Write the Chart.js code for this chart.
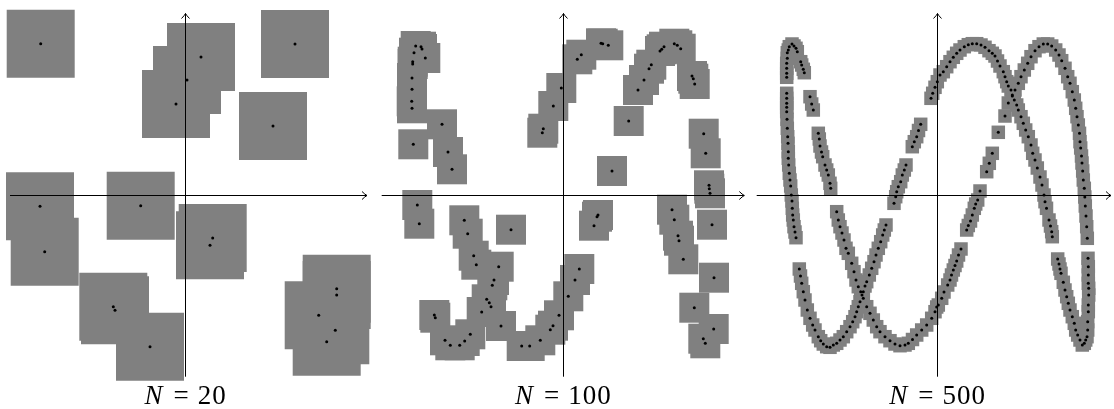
<!DOCTYPE html>
<html>
<head>
<meta charset="utf-8">
<script src="https://cdn.jsdelivr.net/npm/chart.js@4.4.1/dist/chart.umd.min.js"></script>
<style>
  html, body { margin: 0; padding: 0; background: #fff; overflow: hidden; }
  #wrap { position: relative; width: 1114px; height: 409px; }
  #wrap canvas { position: absolute; top: 0; }
  .cap {
    position: absolute; top: 382px; width: 200px; margin-left: -100px;
    text-align: center; white-space: nowrap;
    font-family: "Liberation Serif", "DejaVu Serif", serif;
    font-size: 27px; line-height: 26px; color: #000;
  }
  .cap .eq { margin: 0 9px 0 11px; }
  .cap .num { letter-spacing: 1px; }
</style>
</head>
<body>
<div id="wrap"></div>
<script>
// sample sizes shown under each panel
const sampleSizes = [20, 100, 500];

const pts20 = [
  [-144.8, 151.3], [15.5, 138], [1.5, 115], [-9.5, 91], [109.5, 151], [87.5, 69],
  [-145.5, -11.3], [-44.8, -10.7], [-140.8, -56.7], [27.2, -43], [24.5, -50.3],
  [-72.2, -111.7], [-70.5, -115.3], [-35.5, -151.7], [151.2, -93.7], [151.2, -100],
  [133.2, -120.3], [149.8, -135.3], [141.2, -146.7]
];

const pts100 = [
  [-147.6, 149], [-142.3, 148.3], [-141.3, 146], [-149.3, 142.3], [-138, 137],
  [-150.6, 133.3], [-150.6, 131], [-151.3, 117], [-151.3, 105.7], [-151.6, 93.7],
  [-151.3, 86.7], [-121.3, 70.7], [-150, 50.7], [-115.3, 43], [-111.3, 25.7],
  [-146, -10], [-144, -28.7],
  [-20, 66.3], [-21, 62.3], [-10, 89], [-2, 107], [14, 135.7], [18, 140.3],
  [37.7, 151.7], [39.4, 151.3], [45, 149.7],
  [48.7, 24],
  [65.4, 74], [74.7, 105], [80.7, 115], [85.7, 126.3], [88, 130.3], [96.7, 144],
  [98.4, 145.7], [100.7, 148.3], [111, 151.3], [114, 149.7], [117.4, 146.3],
  [128.7, 119], [130, 116.3], [131.4, 111],
  [140.4, 61.3], [142.4, 41.7], [145.7, 9.7], [146, 6.3], [146.7, 1.7],
  [-99, -25.3], [-95.6, -38.7], [-52.3, -34.7], [34.7, -20], [33.7, -21.7], [30.7, -30.7],
  [-89.6, -60.7], [-87, -69.7], [-64.6, -71.7], [-69.3, -85], [-71, -90.3],
  [-76.6, -104.3], [-74, -107.7], [-72.3, -111.7], [-81.6, -117], [-62.3, -131],
  [-129, -120], [-128, -122.7], [-118.3, -145.3], [-113, -150.3], [-103.6, -150.3],
  [-98.6, -146], [-93, -139.3],
  [-41.6, -151], [-33.6, -151], [-23, -145.3], [-13, -134.7], [-10.3, -130.7],
  [-4.3, -120.3], [5, -101.3], [11.7, -85], [16, -74],
  [108.7, -14.7], [111, -24.7], [114.7, -40.7], [115.7, -45.7], [120, -64.3],
  [148.7, -29.7], [150.7, -82.7], [131, -112.7], [150.4, -134], [140, -143.7], [142, -148.3]
];

const pts500 = [
  [-145.5, 151], [-148.2, 148.3], [-149.2, 145], [-150.2, 142.3], [-150.2, 136.7],
  [-150.8, 131.7], [-150.8, 126.7], [-150.8, 121.7], [-150.8, 117.7],
  [-150.8, 101.7], [-150.8, 96.7], [-150.8, 91.7], [-150.8, 87.7], [-150.8, 83.3],
  [-150.5, 75.7], [-150.2, 66.7], [-149.8, 58.3], [-149.5, 51.7], [-149.2, 43.3],
  [-149.2, 36.7], [-148.8, 30], [-148.2, 21.7], [-147.5, 15], [-146.8, 9], [-146.2, 0],
  [-145.5, -6], [-145.2, -13.3], [-144.8, -20], [-144.2, -25], [-143.5, -31.7],
  [-142.5, -37], [-141.5, -42.7],
  [-138.2, -74], [-137, -81], [-135.8, -88.3], [-134.2, -96.7], [-132.5, -105],
  [-130.2, -115], [-127.5, -123.3], [-124.8, -130], [-122.5, -135], [-119.2, -141.7],
  [-116.8, -145.7], [-114.2, -149], [-110.8, -151.7], [-107.5, -152.3], [-104.2, -150],
  [-100.8, -148.3], [-97.5, -145], [-94.2, -141.7], [-90.8, -136.7], [-87.5, -131.7],
  [-84.8, -126.7], [-82.5, -121.7], [-80.8, -116.7], [-79.2, -111.7], [-77.5, -106.7],
  [-75.5, -100], [-74.2, -96.7], [-72.5, -91], [-70.8, -86.7], [-68.2, -80],
  [-65.8, -73.3], [-63.5, -66.7], [-61.5, -60], [-59.2, -53.3], [-56.8, -46.7],
  [-54.8, -40], [-53.2, -35], [-51.5, -30],
  [-43.5, -8.3], [-41.8, -1.7], [-40.8, 3.3], [-39.2, 8.3], [-36.8, 13.3],
  [-35.2, 20], [-33.2, 25], [-31.5, 30],
  [-25.2, 48.3], [-23.2, 53.3], [-20.8, 58.3], [-19, 64.5], [-16.8, 70.7],
  [-6.5, 96.7], [-4.8, 101.7], [-2.5, 107.7], [-0.2, 113.3], [2.5, 120], [5.8, 123.3],
  [9.2, 128.3], [12.5, 133.3], [15.8, 137.7], [19.2, 141.7], [22.5, 145], [26.8, 148.3],
  [30.8, 150.3], [34.8, 151.3], [39.2, 151.3], [43.5, 150], [47.5, 147.7], [51.5, 144.3],
  [54.8, 141.7], [57.5, 139], [60, 134], [62.5, 129], [65.8, 123.3], [67.5, 118.3],
  [69.2, 113.3], [70.8, 109], [73.5, 105], [74.8, 100], [76.8, 95], [79.2, 90],
  [80.8, 85], [83.5, 78.3], [85.8, 71.7], [88.2, 65], [90.8, 58.3], [93.5, 50],
  [95.2, 41.7], [97.5, 35], [99.8, 27], [102.5, 18], [104.5, 10], [106.5, 0],
  [107.5, -6.7], [109, -13.3], [111.5, -25], [113, -31], [114.2, -36.7], [114.8, -41.7],
  [120.2, -64], [121.5, -69], [122.5, -74], [123.5, -78.3], [125.8, -87.3], [127.5, -95],
  [129.2, -101.7], [130.8, -108.3], [132.5, -115], [134.8, -121.7], [136.8, -128.3],
  [138.2, -135], [140.2, -140], [142.5, -145], [144.8, -150], [146.8, -148.3],
  [148.2, -145], [149.5, -141.7], [150.2, -135], [150.2, -126.7], [150.8, -116.7],
  [150.8, -110], [151.2, -100], [151.2, -93.3], [150.8, -88.3], [150.8, -80],
  [150.8, -71.7], [150.5, -63.3],
  [149.8, -43.3], [149.2, -31.7], [148.5, -21], [147.8, -11], [147.3, -2], [146.8, 6.7],
  [145.8, 15], [145.2, 24], [144.5, 32], [144, 39], [143.2, 47], [142.5, 53.3],
  [142, 61.7], [140.8, 70], [139.5, 78.3], [138.2, 86.7], [136.8, 95], [134.8, 103.3],
  [132.5, 111.7], [130.2, 118.3], [127.5, 126.7], [124.2, 134.3], [121.5, 140],
  [118.2, 145], [114.2, 149], [110.2, 151], [105.8, 151], [101.5, 148.3], [97.5, 144.3],
  [93.5, 138.3], [90.2, 131.7], [86.8, 125], [83.5, 118.3], [80.8, 111.7], [77.5, 105],
  [74.8, 99], [70.8, 92], [67.5, 79], [60.8, 62.7], [54.8, 41.7], [51.8, 31.7], [49.2, 23.3],
  [42.5, 4], [40.2, -5], [38.2, -9], [36.8, -13.3], [34.8, -20], [33, -26], [30.8, -30.5],
  [29.2, -35],
  [23.5, -54], [21, -60], [19.2, -66], [17.5, -70.5], [15.8, -75], [14, -80], [12.5, -85],
  [10.2, -90], [6.5, -97], [4.2, -103.3], [0.8, -110], [-0.8, -112], [-2.5, -116.7],
  [-5.8, -123.3], [-10.8, -130], [-15.8, -135], [-20.8, -140], [-25, -144.5],
  [-29.2, -148.3], [-32.5, -150], [-37.5, -150.7], [-42.5, -149], [-47.5, -145.7],
  [-52.5, -141.7], [-57.5, -136.7], [-60.8, -131.7], [-64.2, -125], [-67.5, -118.3],
  [-70.8, -111.7], [-74.2, -103.3], [-76.8, -96.7], [-79.2, -91.7], [-81.5, -85],
  [-83.5, -76.7], [-85.8, -68.3], [-89.2, -58.3], [-91.5, -53.3], [-93.5, -45],
  [-95.5, -38], [-97.5, -31.7], [-99.2, -25], [-100.8, -16.7],
  [-106.8, 6.7], [-107.5, 11.7], [-109.2, 20], [-110.8, 25], [-112.5, 30], [-114.8, 38.3],
  [-116, 43], [-117.5, 49], [-118.2, 56], [-119.2, 61.7],
  [-124.2, 85], [-125.8, 91], [-127.5, 98.3],
  [-133.2, 122.3], [-134.2, 125.7], [-135.8, 130], [-136.8, 133.3], [-140.2, 143.3],
  [-141.5, 146.7], [-143.5, 149]
];

const seriesBySize = [pts20, pts100, pts500];

// page layout of the three panels (pixels) and square side for each sample size
const panels = [
  { left: 0,   width: 372, originX: 185.5, side: 68,   xAxis: [-175.5, 181.5] },
  { left: 375, width: 375, originX: 188.3, side: 30,   xAxis: [-181.6, 181] },
  { left: 750, width: 364, originX: 187.5, side: 13.5, xAxis: [-180.8, 173.5] }
];
const H = 409, originY = 195;

// draws the two axes through the origin with open arrow heads
const axesPlugin = {
  id: 'axesCross',
  afterDatasetsDraw(chart, args, opts) {
    const { ctx, scales: { x, y } } = chart;
    const x0 = Math.floor(x.getPixelForValue(0)) + 0.5;
    const y0 = Math.floor(y.getPixelForValue(0)) + 0.5;
    const xa = x.getPixelForValue(opts.xFrom), xb = x.getPixelForValue(opts.xTo);
    const ya = y.getPixelForValue(opts.yFrom), yb = y.getPixelForValue(opts.yTo);
    ctx.save();
    ctx.strokeStyle = '#000';
    ctx.lineWidth = 1;
    ctx.beginPath();
    ctx.moveTo(xa, y0); ctx.lineTo(xb, y0);
    ctx.moveTo(x0, ya); ctx.lineTo(x0, yb);
    ctx.stroke();
    ctx.beginPath();
    ctx.moveTo(xb - 5, y0 - 4); ctx.quadraticCurveTo(xb - 2, y0 - 1, xb, y0);
    ctx.quadraticCurveTo(xb - 2, y0 + 1, xb - 5, y0 + 4);
    ctx.moveTo(x0 - 4, yb + 5); ctx.quadraticCurveTo(x0 - 1, yb + 2, x0, yb);
    ctx.quadraticCurveTo(x0 + 1, yb + 2, x0 + 4, yb + 5);
    ctx.stroke();
    ctx.restore();
  }
};

const wrap = document.getElementById('wrap');

panels.forEach((p, i) => {
  const canvas = document.createElement('canvas');
  canvas.width = p.width;
  canvas.height = H;
  canvas.style.left = p.left + 'px';
  canvas.style.width = p.width + 'px';
  canvas.style.height = H + 'px';
  wrap.appendChild(canvas);

  const data = seriesBySize[i].map(([x, y]) => ({ x, y }));
  const sq = p.side / (2 * Math.SQRT1_2);

  new Chart(canvas, {
    type: 'scatter',
    data: {
      datasets: [
        {
          data: data,
          pointStyle: 'circle',
          pointRadius: 1.5,
          pointHoverRadius: 1.5,
          backgroundColor: '#000',
          borderWidth: 0,
          clip: false,
          order: 0
        },
        {
          data: data,
          pointStyle: 'rect',
          pointRadius: sq,
          pointHoverRadius: sq,
          backgroundColor: '#808080',
          borderWidth: 0,
          clip: false,
          order: 1
        }
      ]
    },
    options: {
      responsive: false,
      maintainAspectRatio: false,
      animation: false,
      events: [],
      layout: { padding: 0, autoPadding: false },
      scales: {
        x: { type: 'linear', display: false, min: -p.originX, max: p.width - p.originX },
        y: { type: 'linear', display: false, min: originY - H, max: originY }
      },
      plugins: {
        legend: { display: false },
        tooltip: { enabled: false },
        axesCross: { xFrom: p.xAxis[0], xTo: p.xAxis[1], yFrom: -181.7, yTo: 181.5 }
      }
    },
    plugins: [axesPlugin]
  });

  const cap = document.createElement('div');
  cap.className = 'cap';
  cap.style.left = (p.left + p.originX) + 'px';
  cap.innerHTML = '<i>N</i><span class="eq">=</span><span class="num">' + sampleSizes[i] + '</span>';
  wrap.appendChild(cap);
});
</script>
</body>
</html>
